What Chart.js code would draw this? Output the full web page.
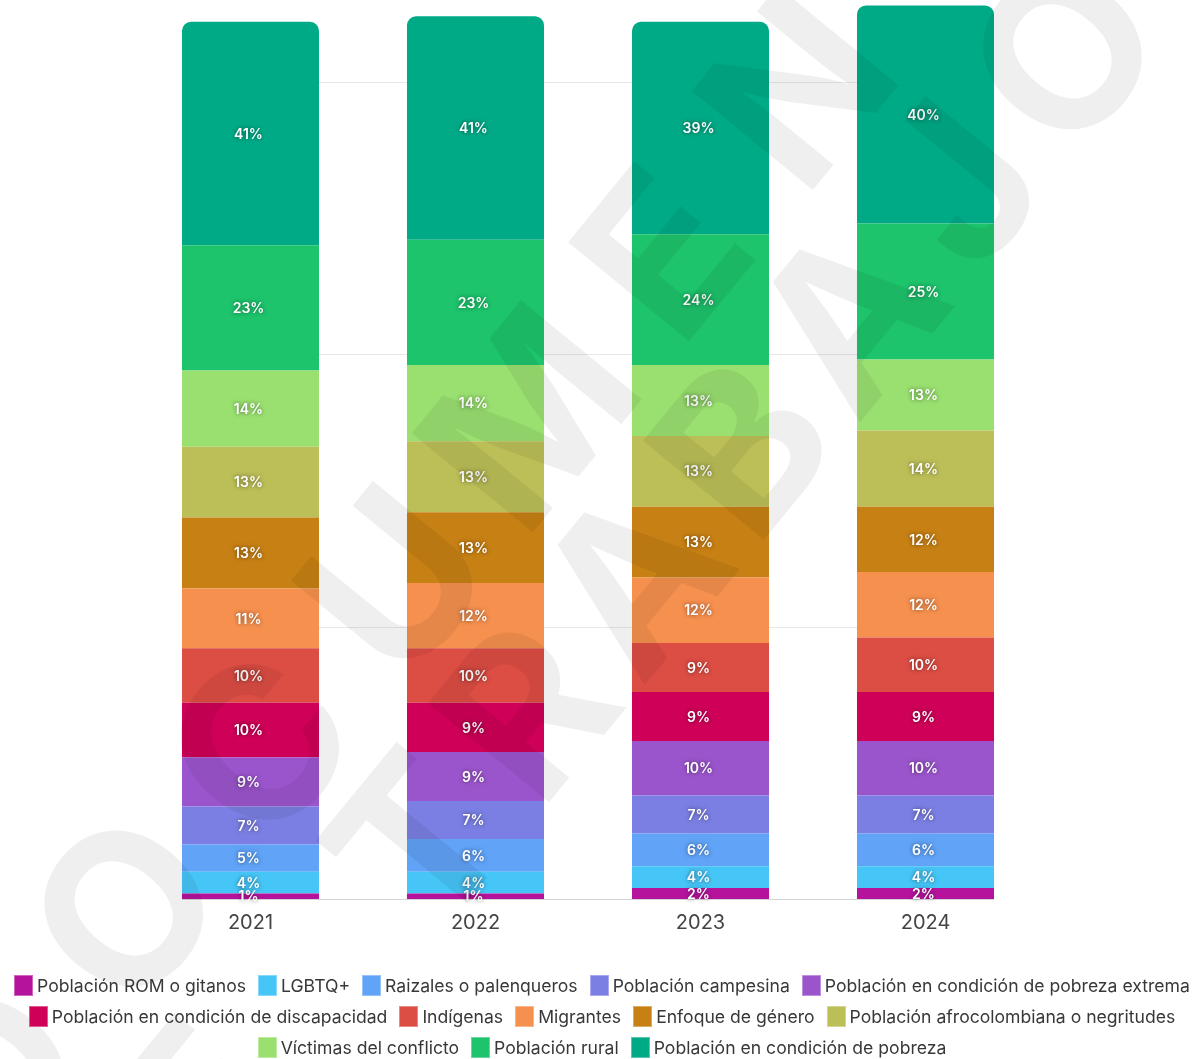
<!DOCTYPE html>
<html>
<head>
<meta charset="utf-8">
<script src="https://cdn.jsdelivr.net/npm/chart.js@4.4.1/dist/chart.umd.min.js"></script>
<style>
  html,body{margin:0;padding:0;background:#fff;}
  #wrap{position:relative;width:1204px;height:1059px;overflow:hidden;}
  #legend{position:absolute;left:0;top:970px;width:1204px;
    font:17.6px Inter, "Open Sans", sans-serif;color:#383838;}
  #legend .row{display:flex;justify-content:center;white-space:nowrap;}
  #legend .it{display:flex;align-items:center;height:31px;margin:0 6px;white-space:nowrap;}
  #legend .bx{width:19px;height:21px;margin-right:4px;box-sizing:border-box;border:1px solid rgba(255,255,255,.35);}
</style>
</head>
<body>
<div id="wrap">
  <canvas id="c" width="1204" height="1059"></canvas>
  <div id="legend"></div>
</div>
<script>
// years on the x axis
const YEARS = ['2021','2022','2023','2024'];

// series, bottom of the stack first
const SERIES = [
  'Población ROM o gitanos',
  'LGBTQ+',
  'Raizales o palenqueros',
  'Población campesina',
  'Población en condición de pobreza extrema',
  'Población en condición de discapacidad',
  'Indígenas',
  'Migrantes',
  'Enfoque de género',
  'Población afrocolombiana o negritudes',
  'Víctimas del conflicto',
  'Población rural',
  'Población en condición de pobreza',
];

// percentage per series, one value per year
const rom        = [1, 1, 2, 2];
const lgbtq      = [4, 4, 4, 4];
const raizales   = [5, 6, 6, 6];
const campesina  = [7, 7, 7, 7];
const pobExtrema = [9, 9, 10, 10];
const discapac   = [10, 9, 9, 9];
const indigenas  = [10, 10, 9, 10];
const migrantes  = [11, 12, 12, 12];
const genero     = [13, 13, 13, 12];
const afro       = [13, 13, 13, 14];
const victimas   = [14, 14, 13, 13];
const rural      = [23, 23, 24, 25];
const pobreza    = [41, 41, 39, 40];

const VALUES = [rom, lgbtq, raizales, campesina, pobExtrema, discapac, indigenas,
                migrantes, genero, afro, victimas, rural, pobreza];

const COLORS = ['#b5139c','#46c5f7','#60a3f7','#7b7fe3','#9b55cc','#cf0058','#dc4d44',
                '#f6904f','#c78014','#bcbf57','#9ae070','#1dc46c','#00aa86'];

const GRID_VALUES = [50, 100, 150];

const datasets = SERIES.map((name, i) => ({
  label: name,
  data: VALUES[i],
  backgroundColor: COLORS[i],
  borderWidth: 0,
  borderSkipped: false,
  borderRadius: i === SERIES.length - 1 ? {topLeft: 9, topRight: 9, bottomLeft: 0, bottomRight: 0} : 0,
}));

// light grid lines only between first and last bar
const gridPlugin = {
  id: 'grid',
  beforeDatasetsDraw(chart){
    const g = chart.ctx, y = chart.scales.y;
    const els = chart.getDatasetMeta(0).data;
    const x0 = els[0].x - els[0].width/2;
    const x1 = els[els.length-1].x + els[els.length-1].width/2;
    g.save();
    g.lineWidth = 1;
    g.strokeStyle = '#e8e8e8';
    GRID_VALUES.forEach(v => {
      const py = Math.round(y.getPixelForValue(v)) + 0.5;
      g.beginPath(); g.moveTo(x0, py); g.lineTo(x1, py); g.stroke();
    });
    g.strokeStyle = '#d4d4d4';
    const py = Math.round(y.getPixelForValue(0)) + 0.5;
    g.beginPath(); g.moveTo(x0, py); g.lineTo(x1, py); g.stroke();
    g.restore();
  }
};

// value labels in the middle of each segment
const labelPlugin = {
  id: 'segLabels',
  afterDatasetsDraw(chart){
    const g = chart.ctx;
    g.save();
    g.font = '600 14px Inter, "Open Sans", sans-serif';
    g.fillStyle = '#fff';
    g.textAlign = 'center';
    g.textBaseline = 'middle';
    g.shadowColor = 'rgba(0,0,0,0.55)';
    g.shadowBlur = 4;
    chart.data.datasets.forEach((ds, di) => {
      chart.getDatasetMeta(di).data.forEach((el, i) => {
        g.fillText(ds.data[i] + '%', el.x - 2, (el.y + el.base)/2 + 1);
      });
    });
    g.restore();
  }
};

// faint diagonal watermark over everything
const markPlugin = {
  id: 'mark',
  afterDraw(chart){
    const g = chart.ctx;
    const ang = -50.7 * Math.PI/180;
    const dx = Math.cos(ang), dy = Math.sin(ang);
    g.save();
    g.fillStyle = 'rgba(0,0,0,0.062)';
    g.font = '700 215px Inter, "DejaVu Sans", sans-serif';
    g.textAlign = 'center';
    g.textBaseline = 'middle';
    const line = (txt, x0, y0, step) => {
      [...txt].forEach((ch, k) => {
        g.save();
        g.translate(x0 + dx*step*k, y0 + dy*step*k);
        g.rotate(ang);
        g.fillText(ch, 0, 0);
        g.restore();
      });
    };
    line('DOCUMENTO', 0, 1081, 212);
    line('DE TRABAJO', 1073 - dx*170*9, 60 - dy*170*9, 170);
    g.restore();
  }
};

new Chart(document.getElementById('c').getContext('2d'), {
  type: 'bar',
  data: {labels: YEARS, datasets},
  plugins: [gridPlugin, labelPlugin, markPlugin],
  options: {
    responsive: false,
    animation: false,
    layout: {padding: {left: 138, right: 166, top: 0, bottom: 112}},
    datasets: {bar: {categoryPercentage: 1, barPercentage: 0.609}},
    scales: {
      x: {
        stacked: true,
        grid: {display: false, drawTicks: false},
        border: {display: false},
        ticks: {color: '#444', padding: 12, font: {size: 20, family: 'Inter, "Open Sans", sans-serif'}}
      },
      y: {
        stacked: true, display: false, min: 0, max: 165,
      }
    },
    plugins: {legend: {display: false}, tooltip: {enabled: false}}
  }
});

// html legend built from the same series, three rows as in the original
const item = i => `<div class="it"><span class="bx" style="background:${COLORS[i]}"></span>${SERIES[i]}</div>`;
const rows = [[0, 5], [5, 10], [10, 13]];
document.getElementById('legend').innerHTML = rows.map(([a, b]) =>
  `<div class="row">${SERIES.slice(a, b).map((_, k) => item(a + k)).join('')}</div>`).join('');
</script>
</body>
</html>
